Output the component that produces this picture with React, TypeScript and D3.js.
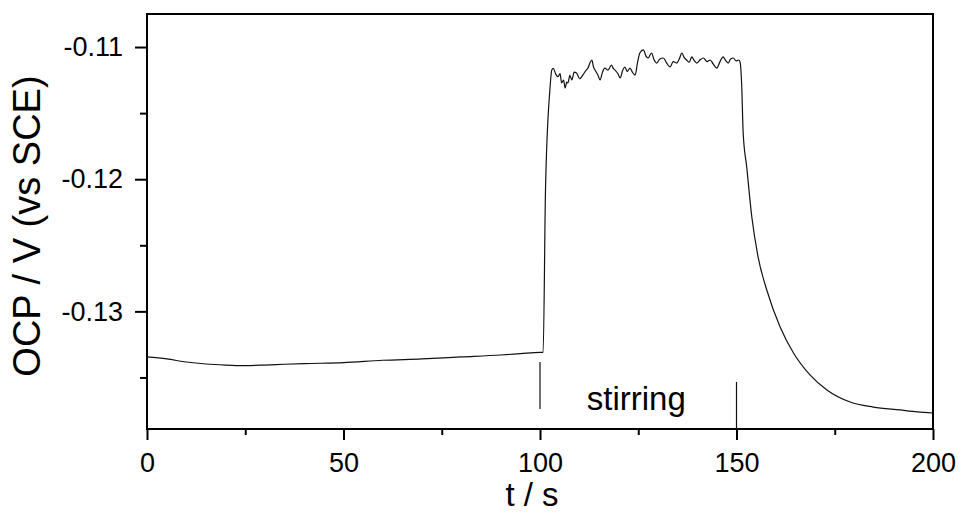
import React, { useEffect, useRef } from "react";
import * as d3 from "d3";

// resting electrode, before stirring
const baseT = [0, 5, 10, 15, 20, 25, 30, 35, 40, 50, 60, 70, 80, 90, 95, 100, 100.8];
const baseV = [
  -0.13345, -0.1336, -0.13383, -0.13398, -0.13406, -0.1341, -0.13406, -0.134,
  -0.13395, -0.13388, -0.1337, -0.1336, -0.13345, -0.1333, -0.1332, -0.1331,
  -0.1331,
];

// stirring on (100 s .. 150 s)
const stirT = [
  101.4, 102.5, 103.0, 103.4, 104.0, 104.6, 105.1, 105.5, 106.0, 106.4, 106.8,
  107.1, 107.6, 108.1, 108.7, 109.3, 110.1, 110.9, 111.6, 112.2, 112.7, 113.2,
  113.6, 114.0, 114.7, 115.3, 115.9, 116.5, 117.3, 118.2, 118.6, 119.1, 119.8,
  120.4, 121.0, 121.6, 122.2, 122.9, 123.5, 124.2, 124.8, 125.4, 126.3, 127.0,
  127.6, 128.0, 128.4, 129.0, 129.7, 130.5, 131.4, 132.2, 133.1, 133.9, 134.8,
  135.5, 136.1, 136.7, 137.3, 138.0, 138.6, 139.2, 139.9, 140.8, 141.6, 142.5,
  143.3, 144.1, 145.0, 145.8, 146.6, 147.2, 147.9, 148.5, 149.2, 149.9, 150.5,
  150.9,
];
const stirV = [
  -0.1208, -0.1133, -0.11174, -0.11161, -0.11205, -0.11224, -0.112, -0.11272,
  -0.1125, -0.1131, -0.11265, -0.11272, -0.11215, -0.11249, -0.1119, -0.11196,
  -0.1124, -0.11212, -0.1118, -0.11159, -0.1112, -0.11098, -0.1115, -0.11174,
  -0.1121, -0.11249, -0.1119, -0.11159, -0.11175, -0.11136, -0.1116, -0.11174,
  -0.112, -0.11234, -0.1118, -0.11151, -0.11185, -0.11159, -0.1119, -0.11212,
  -0.1112, -0.11045, -0.11022, -0.1107, -0.11083, -0.1106, -0.11045, -0.11095,
  -0.11121, -0.1109, -0.11083, -0.1112, -0.11151, -0.1111, -0.11121, -0.11085,
  -0.11045, -0.1108, -0.11098, -0.11115, -0.11075, -0.111, -0.11121, -0.11095,
  -0.11083, -0.1111, -0.11098, -0.1113, -0.11159, -0.1111, -0.11075, -0.111,
  -0.11121, -0.1109, -0.11083, -0.11105, -0.11098, -0.11113,
];

// relaxation after stirring stops
const decayT = [
  151.3, 151.7, 152.6, 153.9, 155.5, 157.7, 161.1, 164.5, 168.7, 173.0, 178.9,
  184.8, 191.6, 196, 200,
];
const decayV = [
  -0.11272, -0.1165, -0.11908, -0.12286, -0.12589, -0.12838, -0.13118, -0.13315,
  -0.13481, -0.13595, -0.13686, -0.13724, -0.13746, -0.1376, -0.13769,
];

const xTicks = [0, 50, 100, 150, 200];
const xMinorTicks = [25, 75, 125, 175];
const yTicks = [-0.11, -0.12, -0.13];
const yMinorTicks = [-0.115, -0.125, -0.135];

// stirring start / stop markers
const markerT = [100, 150];
const markerTop = [-0.13383, -0.13534];
const markerBottom = [-0.13739, -0.1389];

const W = 961;
const H = 514;
const margin = { top: 14, right: 28, bottom: 85, left: 147 };
const font = "'Liberation Sans', Arial, Helvetica, sans-serif";

export default function App() {
  const ref = useRef<SVGSVGElement>(null);

  useEffect(() => {
    const svg = d3.select(ref.current);
    svg.selectAll("*").remove();
    const innerW = W - margin.left - margin.right;
    const innerH = H - margin.top - margin.bottom;

    const x = d3.scaleLinear().domain([0, 200]).range([0, innerW]);
    const y = d3.scaleLinear().domain([-0.1389, -0.1075]).range([innerH, 0]);

    const g = svg
      .append("g")
      .attr("transform", `translate(${margin.left},${margin.top})`);

    const styleAxis = (a: any) => {
      a.select(".domain").remove();
      a.selectAll("line").attr("stroke", "#000").attr("stroke-width", 2);
      a.selectAll("text")
        .attr("fill", "#000")
        .style("font-family", font)
        .style("font-size", "27px");
    };

    // x axis, major + minor
    g.append("g")
      .attr("transform", `translate(0,${innerH})`)
      .call(d3.axisBottom(x).tickValues(xTicks).tickSize(11).tickPadding(13))
      .call(styleAxis);
    g.append("g")
      .attr("transform", `translate(0,${innerH})`)
      .call(
        d3.axisBottom(x).tickValues(xMinorTicks).tickSize(6).tickFormat(() => "")
      )
      .call(styleAxis);

    // y axis, major + minor
    g.append("g")
      .call(
        d3
          .axisLeft(y)
          .tickValues(yTicks)
          .tickSize(12)
          .tickPadding(12)
          .tickFormat((d: any) => d.toFixed(2))
      )
      .call(styleAxis);
    g.append("g")
      .call(
        d3.axisLeft(y).tickValues(yMinorTicks).tickSize(7).tickFormat(() => "")
      )
      .call(styleAxis);

    // frame
    g.append("rect")
      .attr("x", 0)
      .attr("y", 0)
      .attr("width", innerW)
      .attr("height", innerH)
      .attr("fill", "none")
      .attr("stroke", "#000")
      .attr("stroke-width", 2);

    const allT = [...baseT, ...stirT, ...decayT];
    const allV = [...baseV, ...stirV, ...decayV];
    const pts = allT.map((t, i) => [t, allV[i]] as [number, number]);

    const line = d3
      .line<[number, number]>()
      .x((d) => x(d[0]))
      .y((d) => y(d[1]))
      .curve(d3.curveMonotoneX);

    g.append("path")
      .datum(pts)
      .attr("d", line)
      .attr("fill", "none")
      .attr("stroke", "#111")
      .attr("stroke-width", 1.2)
      .attr("stroke-linejoin", "round");

    // markers
    markerT.forEach((t, i) => {
      g.append("line")
        .attr("x1", x(t))
        .attr("x2", x(t))
        .attr("y1", y(markerTop[i]))
        .attr("y2", y(markerBottom[i]))
        .attr("stroke", "#111")
        .attr("stroke-width", 1.2);
    });

    g.append("text")
      .attr("x", x((markerT[0] + markerT[1]) / 2) - 2)
      .attr("y", innerH - 19)
      .attr("text-anchor", "middle")
      .style("font-family", font)
      .style("font-size", "33px")
      .text("stirring");

    // axis titles
    svg
      .append("text")
      .attr("transform", `translate(532,506)`)
      .attr("text-anchor", "middle")
      .style("font-family", font)
      .style("font-size", "33px")
      .text("t / s");

    svg
      .append("text")
      .attr("transform", `translate(40,226) rotate(-90)`)
      .attr("text-anchor", "middle")
      .style("font-family", font)
      .style("font-size", "38px")
      .text("OCP / V (vs SCE)");
  }, []);

  return (
    <svg
      ref={ref}
      width={W}
      height={H}
      style={{ position: "absolute", left: 0, top: 0, background: "#fff" }}
    />
  );
}
